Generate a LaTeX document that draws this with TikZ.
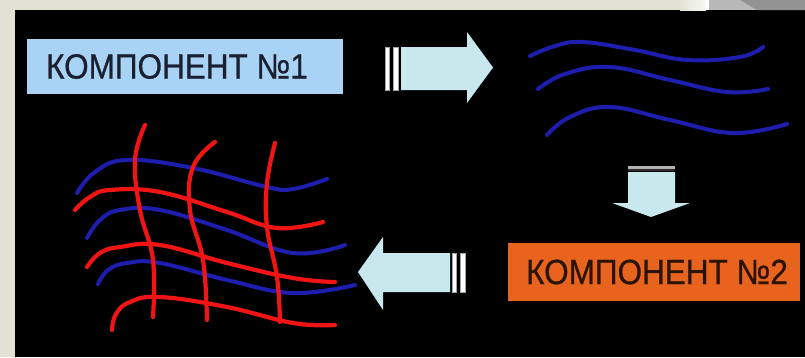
\documentclass[tikz,border=0pt]{standalone}
\usepackage{fontspec}
\setmainfont{Liberation Sans}
\newfontfamily\labelfont[FakeBold=0.7]{Liberation Sans}
\definecolor{paper}{HTML}{E2E3D6}
\definecolor{comp1}{HTML}{A9D3F5}
\definecolor{comp1text}{HTML}{1A2030}
\definecolor{comp2}{HTML}{E8641E}
\definecolor{comp2text}{HTML}{2A1408}
\definecolor{arrowfill}{HTML}{C8E8EE}
\definecolor{fibreblue}{HTML}{1E1EAE}
\definecolor{fibrered}{HTML}{F01414}
\newcommand{\complabel}[1]{\scalebox{0.9}[1]{\labelfont\fontsize{35}{35}\selectfont #1}}
\tikzset{
  compbox/.style={inner sep=0pt},
  blockarrow/.style={fill=arrowfill},
  arrowbar/.style={fill=white!92!arrowfill, draw=gray!70, line width=0.6pt},
  bluefibre/.style={draw=fibreblue, line width=4pt, line cap=round},
  redfibre/.style={draw=fibrered, line width=4.2pt, line cap=round},
}
\begin{document}
\begin{tikzpicture}[x=1pt,y=-1pt]
\useasboundingbox (0,0) rectangle (805,357);
% slide surround and black panel
\fill[paper] (0,0) rectangle (805,357);
\fill[black] (15,10) rectangle (805,357);
\shade[left color=paper, right color=white!80!paper] (680,0) rectangle (706,10);
\fill[white] (706,0) rectangle (709,10);
\fill[gray!55] (709,0) rectangle (805,10);
\fill[gray!85] (740,0) -- (805,0) -- (805,10) -- (757,10) -- cycle;

% component labels
\node[compbox, fill=comp1, text=comp1text, minimum width=316pt, minimum height=55pt] (c1) at (185,66.5) {\complabel{КОМПОНЕНТ №1}\hspace*{16pt}};
\node[compbox, fill=comp2, text=comp2text, minimum width=292pt, minimum height=58pt] (c2) at (654,272) {\hspace*{6pt}\complabel{КОМПОНЕНТ №2}};

% right-pointing block arrow
\fill[blockarrow] (401,47) -- (467,47) -- (467,32) -- (493,67.5) -- (467,103) -- (467,90) -- (401,90) -- cycle;
\filldraw[arrowbar] (385,47) rectangle (389.5,90);
\filldraw[arrowbar] (393,47) rectangle (398.5,90);

% down-pointing block arrow
\fill[blockarrow] (628,172) -- (675,172) -- (675,203) -- (690,203) -- (651,217) -- (612,203) -- (628,203) -- cycle;
\fill[gray!60] (628,166) rectangle (675,168.5);
\fill[gray!35!black] (628,168.5) rectangle (675,171);

% left-pointing block arrow
\fill[blockarrow] (450,253) -- (383,253) -- (383,237) -- (358,272) -- (383,310) -- (383,292) -- (450,292) -- cycle;
\filldraw[arrowbar] (452,253) rectangle (456.5,292);
\filldraw[arrowbar] (460,253) rectangle (465,292);

% component 1 fibres
\draw[bluefibre] plot[smooth, tension=0.7] coordinates {(530,56) (555,46) (583,42) (635,50) (687,60) (740,57) (763,47)};
\draw[bluefibre] plot[smooth, tension=0.7] coordinates {(538,89) (565,74) (610,67) (670,80) (727,92) (768,89)};
\draw[bluefibre] plot[smooth, tension=0.7] coordinates {(547,135) (570,117) (610,107) (670,120) (733,133) (787,124)};

% combined mesh: blue fibres underneath
\draw[bluefibre] plot[smooth, tension=0.7] coordinates {(77,193) (95,172) (127,160) (193,168) (267,187) (293,189) (327,179)};
\draw[bluefibre] plot[smooth, tension=0.7] coordinates {(87,238) (100,220) (120,210) (160,210) (227,230) (293,253) (345,245)};
\draw[bluefibre] plot[smooth, tension=0.7] coordinates {(98,284) (108,270) (127,263) (160,263) (227,280) (293,293) (355,285)};
% red fibres on top
\draw[redfibre] plot[smooth, tension=0.7] coordinates {(75,210) (90,197) (110,190) (160,192) (227,212) (277,228) (323,222)};
\draw[redfibre] plot[smooth, tension=0.7] coordinates {(87,267) (100,253) (120,247) (160,245) (227,263) (293,278) (335,282)};
\draw[redfibre] plot[smooth, tension=0.7] coordinates {(112,330) (116,314) (130,302) (160,297) (227,307) (293,323) (335,325)};
\draw[redfibre] plot[smooth, tension=0.7] coordinates {(145,125) (135,160) (140,210) (153,260) (153,317)};
\draw[redfibre] plot[smooth, tension=0.7] coordinates {(215,142) (193,167) (190,210) (203,260) (207,320)};
\draw[redfibre] plot[smooth, tension=0.7] coordinates {(275,143) (267,183) (267,227) (277,277) (280,322)};
\end{tikzpicture}
\end{document}
